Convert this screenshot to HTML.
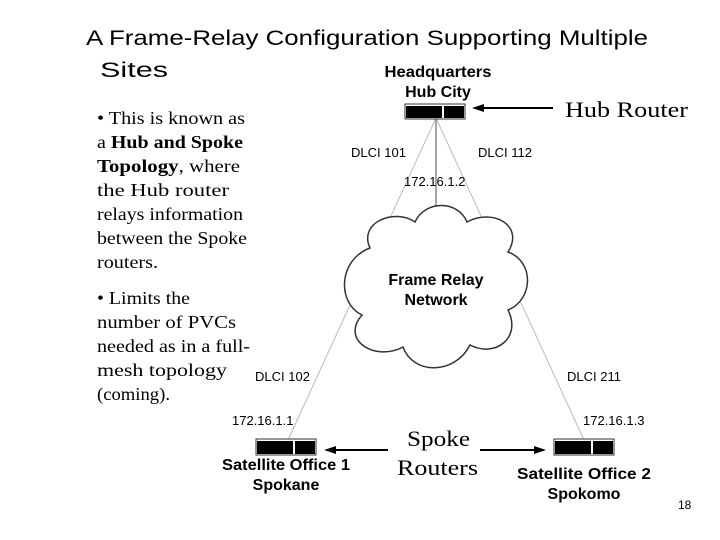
<!DOCTYPE html><html><head><style>body{margin:0;background:#fff}svg{display:block}</style></head><body>
<svg width="720" height="540" viewBox="0 0 720 540" xmlns="http://www.w3.org/2000/svg">
<g font-family="Liberation Sans, Arial, sans-serif" lengthAdjust="spacingAndGlyphs">
<text x="86" y="45" font-size="21" textLength="562" lengthAdjust="spacingAndGlyphs">A Frame-Relay Configuration Supporting Multiple</text>
<text x="100" y="77" font-size="21" textLength="68" lengthAdjust="spacingAndGlyphs">Sites</text>
</g>
<g font-family="Liberation Serif, serif" font-size="18">
<text x="97" y="124" textLength="148" lengthAdjust="spacingAndGlyphs">• This is known as</text>
<text x="97" y="148" textLength="146" lengthAdjust="spacingAndGlyphs">a <tspan font-weight="bold">Hub and Spoke</tspan></text>
<text x="97" y="172" textLength="143" lengthAdjust="spacingAndGlyphs"><tspan font-weight="bold">Topology</tspan>, where</text>
<text x="97" y="196" textLength="132" lengthAdjust="spacingAndGlyphs">the Hub router</text>
<text x="97" y="220" textLength="146" lengthAdjust="spacingAndGlyphs">relays information</text>
<text x="97" y="244" textLength="150" lengthAdjust="spacingAndGlyphs">between the Spoke</text>
<text x="97" y="268" textLength="61" lengthAdjust="spacingAndGlyphs">routers.</text>
<text x="97" y="304" textLength="93" lengthAdjust="spacingAndGlyphs">• Limits the</text>
<text x="97" y="328" textLength="139" lengthAdjust="spacingAndGlyphs">number of PVCs</text>
<text x="97" y="352" textLength="153" lengthAdjust="spacingAndGlyphs">needed as in a full-</text>
<text x="97" y="376" textLength="130" lengthAdjust="spacingAndGlyphs">mesh topology</text>
<text x="97" y="400" textLength="73" lengthAdjust="spacingAndGlyphs">(coming).</text>
<text x="565" y="117" font-size="22" textLength="123" lengthAdjust="spacingAndGlyphs">Hub Router</text>
<text x="407" y="446" font-size="22" textLength="63" lengthAdjust="spacingAndGlyphs">Spoke</text>
<text x="397" y="475" font-size="22" textLength="81" lengthAdjust="spacingAndGlyphs">Routers</text>
</g>
<g stroke="#bbb" stroke-width="1" fill="none">
<line x1="436" y1="118" x2="288" y2="440"/>
<line x1="436" y1="118" x2="584" y2="440"/>
</g>
<line x1="436" y1="118" x2="436" y2="222" stroke="#888" stroke-width="1.5"/>
<path d="M370 248 C358 222 395 208 415 222 C425 200 458 200 467 222 C492 208 525 225 508 252 C535 262 533 300 508 310 C522 338 495 358 470 345 C455 375 413 375 403 347 C375 362 340 340 362 315 C337 303 338 260 370 248 Z" fill="#fff" stroke="#333" stroke-width="1.5"/>
<g font-family="Liberation Sans, Arial, sans-serif" font-weight="bold" text-anchor="middle" font-size="16">
<text x="436" y="285">Frame Relay</text>
<text x="436" y="305">Network</text>
<text x="438" y="77" textLength="107" lengthAdjust="spacingAndGlyphs">Headquarters</text>
<text x="438" y="97">Hub City</text>
<text x="286" y="470" textLength="128" lengthAdjust="spacingAndGlyphs">Satellite Office 1</text>
<text x="286" y="490">Spokane</text>
<text x="584" y="479" textLength="134" lengthAdjust="spacingAndGlyphs">Satellite Office  2</text>
<text x="584" y="499">Spokomo</text>
</g>
<g font-family="Liberation Sans, Arial, sans-serif" font-size="13">
<text x="351" y="157">DLCI 101</text>
<text x="478" y="157">DLCI 112</text>
<text x="404" y="186">172.16.1.2</text>
<text x="255" y="381">DLCI 102</text>
<text x="567" y="381">DLCI 211</text>
<text x="232" y="425">172.16.1.1</text>
<text x="583" y="425">172.16.1.3</text>
<text x="678" y="509" font-size="12">18</text>
</g>
<g>
<rect x="405" y="104" width="60" height="15" fill="#fff" stroke="#333"/>
<rect x="406" y="106" width="36" height="12" fill="#000"/><rect x="444" y="106" width="20" height="12" fill="#000"/>
<rect x="256" y="439" width="60" height="16" fill="#fff" stroke="#333"/>
<rect x="257" y="441" width="36" height="13" fill="#000"/><rect x="295" y="441" width="20" height="13" fill="#000"/>
<rect x="554" y="439" width="60" height="16" fill="#fff" stroke="#333"/>
<rect x="555" y="441" width="36" height="13" fill="#000"/><rect x="593" y="441" width="20" height="13" fill="#000"/>
</g>
<g stroke="#000" stroke-width="2">
<line x1="482" y1="108" x2="553" y2="108"/>
<line x1="334" y1="450" x2="388" y2="450"/>
<line x1="480" y1="450" x2="537" y2="450"/>
</g>
<g fill="#000">
<polygon points="472,108 484,104 484,112"/>
<polygon points="324,450 336,446 336,454"/>
<polygon points="546,450 534,446 534,454"/>
</g>
</svg>
</body></html>
